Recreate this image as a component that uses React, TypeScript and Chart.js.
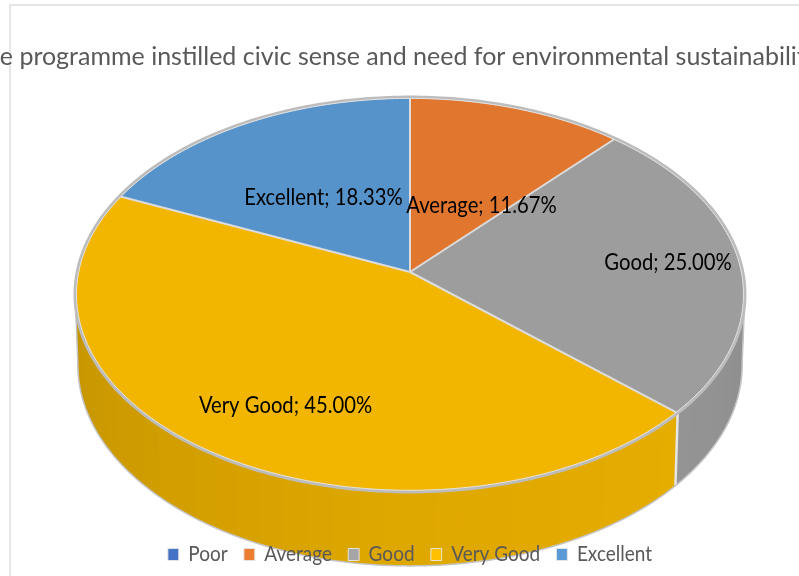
import React, { useEffect, useRef } from "react";
import { Chart, registerables } from "chart.js";

Chart.register(...registerables);

const categories = ["Poor", "Average", "Good", "Very Good", "Excellent"];
const percentages = [0, 11.67, 25, 45, 18.33];
const sliceColors = ["#4472c4", "#ed7d31", "#a5a5a5", "#ffc000", "#5b9bd5"];
const chartTitle = "The programme instilled civic sense and need for environmental sustainability";

// Label centres, per category (null: no label)
const labelAnchors: ([number, number] | null)[] = [null, [481.5, 206], [668, 263], [285.5, 406], [323.5, 198]];

// Perspective of the tilted disc
const CX = 410;
const TOP = { cy: 272, a: 194.9, b: 332.8, p: 0.1139 };
const BOTTOM = { cy: 342, a: 198.4, b: 330, p: 0.1139 };

type Rim = typeof TOP;
const project = (rim: Rim, angle: number): [number, number] => {
  const u = Math.cos(angle);
  const v = Math.sin(angle);
  const d = 1 - rim.p * v;
  return [CX + (rim.b * u) / d, rim.cy + (rim.a * v) / d];
};

const shade = (hex: string, f: number) => {
  const n = parseInt(hex.slice(1), 16);
  const c = [(n >> 16) & 255, (n >> 8) & 255, n & 255].map((x) => Math.round(x * f));
  return `rgb(${c[0]},${c[1]},${c[2]})`;
};

// Wall lighting by canvas angle (degrees; 0 = right, 90 = front, 180 = left)
const wallLight = (deg: number) => {
  const stops: [number, number][] = [[-10, 0.84], [42, 0.9], [90, 0.875], [150, 0.8], [190, 0.76]];
  for (let i = 1; i < stops.length; i++) {
    if (deg <= stops[i][0]) {
      const [x0, y0] = stops[i - 1];
      const [x1, y1] = stops[i];
      return y0 + ((y1 - y0) * (deg - x0)) / (x1 - x0);
    }
  }
  return 0.76;
};

const pie3d = {
  id: "pie3d",
  beforeLayout(chart: any) {
    const ctx = chart.ctx;
    if (chart.legend) {
      chart.legend._layers = () => [
        {
          z: 1,
          draw: () => {
            ctx.save();
            ctx.translate(410, 0);
            ctx.scale(0.905, 1);
            ctx.translate(-399.5, 0);
            chart.legend.draw();
            ctx.restore();
          },
        },
      ];
    }
    if (chart.titleBlock) {
      chart.titleBlock._layers = () => [
        {
          z: 0,
          draw: () => {
            // The title runs past both canvas edges, as it does in the reference
            const block = chart.titleBlock;
            const { left, right } = block;
            block.left = -110;
            block.right = 900;
            block.draw();
            block.left = left;
            block.right = right;
          },
        },
      ];
    }
  },
  beforeDraw(chart: any) {
    const ctx = chart.ctx;
    ctx.save();
    ctx.strokeStyle = "#dedede";
    ctx.lineWidth = 1.5;
    ctx.beginPath();
    ctx.moveTo(10, 576);
    ctx.lineTo(10, 5);
    ctx.lineTo(799, 5);
    ctx.stroke();
    ctx.restore();
  },
  beforeDatasetsDraw(chart: any) {
    const ctx = chart.ctx;
    const arcs = chart.getDatasetMeta(0).data;
    const step = Math.PI / 180;
    ctx.save();
    ctx.lineJoin = "round";

    // Side wall, in bands of a few degrees
    const bandStep = 4 * step;
    arcs.forEach((arc: any, i: number) => {
      if (arc.endAngle - arc.startAngle <= 0) return;
      const from = Math.max(arc.startAngle, -6 * step);
      const to = Math.min(arc.endAngle, Math.PI + 6 * step);
      for (let a = from; a < to; a += bandStep) {
        const b = Math.min(a + bandStep + step, to);
        const deg = (a + bandStep / 2) / step;
        ctx.fillStyle = shade(sliceColors[i], wallLight(deg));
        ctx.beginPath();
        ctx.moveTo(...project(TOP, a));
        for (let t = a; t < b; t += step / 2) ctx.lineTo(...project(TOP, t));
        ctx.lineTo(...project(TOP, b));
        ctx.lineTo(...project(BOTTOM, b));
        for (let t = b; t > a; t -= step / 2) ctx.lineTo(...project(BOTTOM, t));
        ctx.lineTo(...project(BOTTOM, a));
        ctx.closePath();
        ctx.fill();
      }
      // Seam at a slice edge on the front of the wall
      if (arc.startAngle > 0.05 && arc.startAngle < Math.PI) {
        const [x0, y0] = project(TOP, arc.startAngle);
        const [x1, y1] = project(BOTTOM, arc.startAngle);
        ctx.strokeStyle = "#e6e6e6";
        ctx.lineWidth = 2.5;
        ctx.beginPath();
        ctx.moveTo(x0, y0);
        ctx.lineTo(x1, y1);
        ctx.stroke();
      }
    });

    // Lower outline of the wall
    const ls = 6 * step;
    const le = Math.PI - 6 * step;
    ctx.strokeStyle = "#c4c4c4";
    ctx.lineWidth = 1.5;
    ctx.beginPath();
    ctx.moveTo(...project(TOP, ls));
    for (let a = ls; a <= le + 0.001; a += step) ctx.lineTo(...project(BOTTOM, a));
    ctx.lineTo(...project(TOP, le));
    ctx.stroke();

    // Top face
    arcs.forEach((arc: any, i: number) => {
      if (arc.endAngle - arc.startAngle <= 0) return;
      ctx.fillStyle = shade(sliceColors[i], 0.95);
      ctx.beginPath();
      ctx.moveTo(CX, TOP.cy);
      for (let a = arc.startAngle; a < arc.endAngle; a += step / 2) ctx.lineTo(...project(TOP, a));
      ctx.lineTo(...project(TOP, arc.endAngle));
      ctx.closePath();
      ctx.fill();
    });

    // Separators
    ctx.strokeStyle = "#dcdcdc";
    ctx.lineWidth = 2;
    arcs.forEach((arc: any) => {
      ctx.beginPath();
      ctx.moveTo(CX, TOP.cy);
      ctx.lineTo(...project(TOP, arc.startAngle));
      ctx.stroke();
    });

    // Rim
    ctx.strokeStyle = "#bcbcbc";
    ctx.lineWidth = 3;
    ctx.beginPath();
    for (let a = 0; a <= 2 * Math.PI + 0.001; a += step) {
      const [x, y] = project(TOP, a);
      a ? ctx.lineTo(x, y) : ctx.moveTo(x, y);
    }
    ctx.closePath();
    ctx.stroke();
    ctx.strokeStyle = "#e4e4e4";
    ctx.lineWidth = 1;
    ctx.beginPath();
    for (let a = 0; a <= 2 * Math.PI + 0.001; a += step) {
      const d = 1 - TOP.p * Math.sin(a);
      const x = CX + ((TOP.b - 1.5) * Math.cos(a)) / d;
      const y = TOP.cy + ((TOP.a - 1.5) * Math.sin(a)) / d;
      a ? ctx.lineTo(x, y) : ctx.moveTo(x, y);
    }
    ctx.closePath();
    ctx.stroke();

    ctx.restore();
    return false;
  },
};

const labelPlugin = {
  id: "sliceLabels",
  afterDraw(chart: any) {
    const ctx = chart.ctx;
    ctx.save();
    ctx.font = "23px Lato";
    ctx.fillStyle = "#000000";
    ctx.textAlign = "center";
    ctx.textBaseline = "middle";
    categories.forEach((name, i) => {
      const at = labelAnchors[i];
      if (!at) return;
      ctx.save();
      ctx.translate(at[0], at[1]);
      ctx.scale(0.88, 1);
      ctx.fillText(`${name}; ${percentages[i].toFixed(2)}%`, 0, 0);
      ctx.restore();
    });
    ctx.restore();
  },
};

export default function App() {
  const ref = useRef<HTMLCanvasElement>(null);
  useEffect(() => {
    document.body.style.margin = "0";
    const chart = new Chart(ref.current as HTMLCanvasElement, {
      type: "pie",
      data: {
        labels: categories,
        datasets: [
          {
            data: percentages,
            backgroundColor: sliceColors,
            borderColor: "#e6e6e6",
            borderWidth: 1,
          },
        ],
      },
      plugins: [pie3d, labelPlugin],
      options: {
        responsive: false,
        animation: false,
        layout: { padding: { bottom: 1 } },
        plugins: {
          tooltip: { enabled: false },
          title: {
            display: true,
            text: chartTitle,
            color: "#595959",
            font: { family: "Lato", size: 25, weight: "normal" },
            padding: { top: 42, bottom: 10 },
          },
          legend: {
            display: true,
            position: "bottom",
            labels: {
              color: "#595959",
              font: { family: "Lato", size: 21 },
              boxWidth: 12,
              boxHeight: 12,
              padding: 18,
            },
          },
        },
      } as any,
    });
    return () => chart.destroy();
  }, []);
  return <canvas ref={ref} width={799} height={576} style={{ display: "block" }} />;
}
